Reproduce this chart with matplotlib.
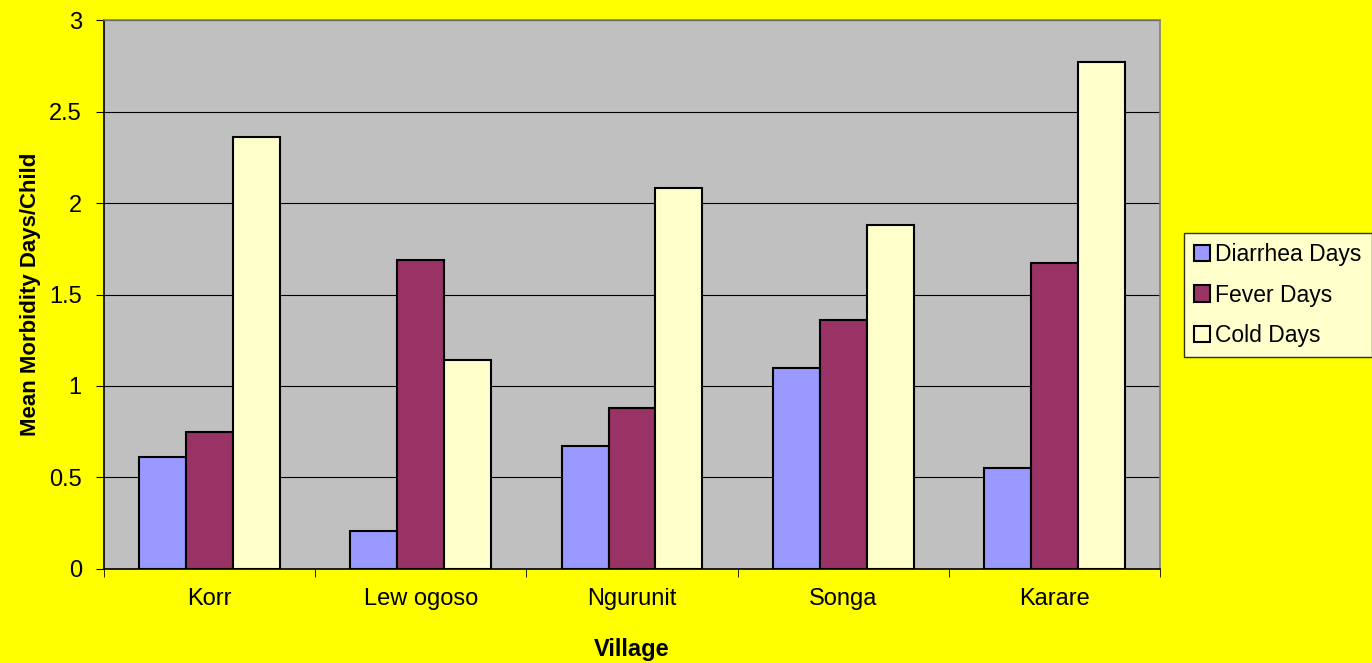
import numpy as np
import matplotlib.pyplot as plt

plt.rcParams['font.family'] = ['Liberation Sans', 'DejaVu Sans']

villages = ['Korr', 'Lew ogoso', 'Ngurunit', 'Songa', 'Karare']
diarrhea = [0.61, 0.21, 0.67, 1.10, 0.55]
fever = [0.75, 1.69, 0.88, 1.36, 1.67]
cold = [2.36, 1.14, 2.08, 1.88, 2.77]

series = [('Diarrhea Days', diarrhea, '#9999ff'),
          ('Fever Days', fever, '#993366'),
          ('Cold Days', cold, '#ffffcc')]

fig = plt.figure(figsize=(13.72, 6.63), dpi=100, facecolor='#ffff00')
ax = fig.add_axes([0.0758, 0.1418, 0.7697, 0.828])
ax.set_facecolor('#c0c0c0')

x = np.arange(len(villages))
w = 0.222
for i, (name, vals, col) in enumerate(series):
    ax.bar(x + (i - 1) * w, vals, w, color=col, edgecolor='black', linewidth=1.5,
           label=name, zorder=3)

ax.set_xlim(-0.5, len(villages) - 0.5)
ax.set_ylim(0, 3)
ax.set_yticks(np.arange(0, 3.01, 0.5))
ax.set_yticklabels(['0', '0.5', '1', '1.5', '2', '2.5', '3'])
ax.yaxis.grid(True, color='black', linewidth=0.8, zorder=0)
ax.set_axisbelow(True)

ax.set_xticks(x)
ax.set_xticklabels(villages)
ax.set_xticks(np.arange(-0.5, len(villages)), minor=True)
ax.tick_params(axis='x', which='major', length=0, pad=14, labelsize=17)
ax.tick_params(axis='x', which='minor', length=6, direction='out')
ax.tick_params(axis='y', length=6, direction='out', labelsize=17, pad=10)

for s in ['top', 'right']:
    ax.spines[s].set_color('#808080')
    ax.spines[s].set_linewidth(1.2)
ax.spines['left'].set_linewidth(1.2)
ax.spines['bottom'].set_linewidth(1.2)

ax.set_xlabel('Village', fontsize=17, fontweight='bold', labelpad=20)
ax.set_ylabel('Mean Morbidity Days/Child', fontsize=16, fontweight='bold', labelpad=6)

leg = fig.legend(loc='center left', bbox_to_anchor=(0.863, 0.555), fontsize=16.5,
                 frameon=True, fancybox=False, edgecolor='black', facecolor='white',
                 handlelength=0.7, handleheight=0.7, handletextpad=0.2,
                 labelspacing=0.75, borderpad=0.45, borderaxespad=0)
leg.get_frame().set_linewidth(1.0)

fig.savefig('out.png', dpi=100, facecolor=fig.get_facecolor())
